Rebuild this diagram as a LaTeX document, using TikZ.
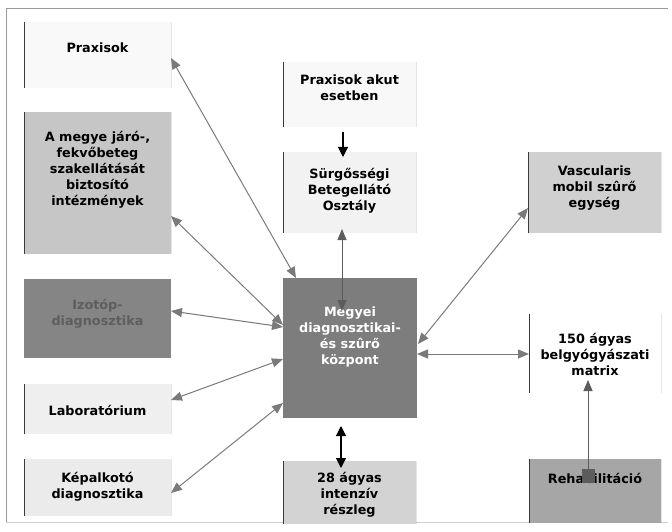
\documentclass[tikz,border=0pt]{standalone}
\usepackage{fontspec}
\setmainfont{DejaVu Sans}
\usetikzlibrary{arrows.meta,calc}
\definecolor{cPrax}{HTML}{F9F9F9}
\definecolor{cMegye}{HTML}{C6C6C6}
\definecolor{cIzo}{HTML}{858585}
\definecolor{cIzoTxt}{HTML}{5E5E5E}
\definecolor{cLab}{HTML}{EFEFEF}
\definecolor{cKep}{HTML}{EBEBEB}
\definecolor{cAkut}{HTML}{F8F8F8}
\definecolor{cSurg}{HTML}{F2F2F2}
\definecolor{cCenter}{HTML}{7D7D7D}
\definecolor{cInt}{HTML}{D3D3D3}
\definecolor{cVasc}{HTML}{D0D0D0}
\definecolor{cB150}{HTML}{FFFFFF}
\definecolor{cRehab}{HTML}{A6A6A6}
\definecolor{cLine}{HTML}{7A7A7A}
\definecolor{cLineDark}{HTML}{5C5C5C}
\definecolor{cEdge}{HTML}{3A3A3A}
\definecolor{cFrame}{HTML}{9A9A9A}
\begin{document}
\begin{tikzpicture}[x=1pt,y=-1pt,
  box/.style={draw=none,inner sep=0pt,outer sep=0pt},
  edged/.style={path picture={\draw[cEdge,line width=0.7pt]
      (path picture bounding box.north west)--(path picture bounding box.south west)
      (path picture bounding box.north east)--(path picture bounding box.south east);}},
  lbl/.style={inner sep=0pt,align=center,font=\bfseries\fontsize{12.8}{16}\selectfont},
  garrow/.style={cLine,line width=1pt,{Triangle[length=11pt,width=9pt]}-{Triangle[length=11pt,width=9pt]}},
  barrow/.style={black,line width=1.1pt,-{Triangle[length=10pt,width=10pt]}},
  bbarrow/.style={black,line width=1.1pt,{Triangle[length=10pt,width=10pt]}-{Triangle[length=10pt,width=10pt]}}
]
\useasboundingbox (0,0) rectangle (672,532);
% frame
\draw[cFrame,line width=1pt] (668,9) -- (6,9) -- (6,522);
\draw[cFrame!50,line width=0.8pt] (6,522) -- (668,522);
% boxes
\node[box,edged,fill=cPrax,minimum width=147pt,minimum height=66pt] (prax) at (97.5,55) {};
\node[box,edged,fill=cMegye,minimum width=147pt,minimum height=142pt] (megye) at (97.5,183) {};
\node[box,fill=cIzo,minimum width=147pt,minimum height=79pt] (izotop) at (97.5,318.5) {};
\node[box,edged,fill=cLab,minimum width=147pt,minimum height=50pt] (lab) at (97.5,409) {};
\node[box,edged,fill=cKep,minimum width=147pt,minimum height=57pt] (kep) at (97.5,487.5) {};
\node[box,edged,fill=cAkut,minimum width=133pt,minimum height=65pt] (akut) at (349.5,94.5) {};
\node[box,edged,fill=cSurg,minimum width=133pt,minimum height=81pt] (surg) at (349.5,192.5) {};
\node[box,fill=cCenter,minimum width=134pt,minimum height=140pt] (center) at (350,348) {};
\node[box,edged,fill=cInt,minimum width=133pt,minimum height=63pt] (intenz) at (349.5,492.5) {};
\node[box,edged,fill=cVasc,minimum width=133pt,minimum height=81pt] (vasc) at (594.5,192.5) {};
\node[box,edged,fill=cB150,minimum width=132pt,minimum height=79pt] (b150) at (595,353.5) {};
\node[box,edged,fill=cRehab,minimum width=132pt,minimum height=64pt] (rehab) at (595,491) {};
% labels
\node[lbl] (tprax) at (97.5,48) {Praxisok};
\node[lbl] (tmegye) at (97.5,170) {A megye járó-,\\fekvőbeteg\\szakellátását\\biztosító\\intézmények};
\node[lbl,text=cIzoTxt] (tizotop) at (97.5,314) {Izotóp-\\diagnosztika};
\node[lbl] (tlab) at (97.5,410) {Laboratórium};
\node[lbl] (tkep) at (97.5,487) {Képalkotó\\diagnosztika};
\node[lbl] (takut) at (349.5,88) {Praxisok akut\\esetben};
\node[lbl] (tsurg) at (349.5,191) {Sürgősségi\\Betegellátó\\Osztály};
\node[lbl,text=white] (tcenter) at (350,337) {Megyei\\diagnosztikai-\\és szûrő\\központ};
\node[lbl] (tintenz) at (349.5,495) {28 ágyas\\intenzív\\részleg};
\node[lbl] (tvasc) at (594.5,188) {Vascularis\\mobil szûrő\\egység};
\node[lbl] (tb150) at (595,354) {150 ágyas\\belgyógyászati\\matrix};
\node[lbl] (trehab) at (595,478) {Rehabilitáció};
% connectors
\draw[garrow] ($(prax.north east)+(0,36)$) -- ($(center.north west)+(13,0)$);
\draw[garrow] ($(megye.north east)+(0,104)$) -- ($(center.north west)+(0,47)$);
\draw[garrow] ($(izotop.north east)+(0,32)$) -- ($(center.north west)+(0,49)$);
\draw[garrow] ($(lab.north east)+(0,16)$) -- ($(center.north west)+(0,81)$);
\draw[garrow] ($(kep.north east)+(0,34)$) -- ($(center.north west)+(0,125)$);
\draw[barrow] ($(akut.south west)+(60,5)$) -- ($(surg.north west)+(60,5)$);
\draw[garrow,cLineDark] ($(surg.south west)+(59,-4)$) -- ($(center.north west)+(59,33)$);
\draw[bbarrow] ($(center.south west)+(58,8)$) -- ($(intenz.north west)+(58,7)$);
\draw[garrow] ($(vasc.north west)+(0,56)$) -- ($(center.north east)+(1,66)$);
\draw[garrow] ($(center.north east)+(0,76)$) -- ($(b150.north west)+(0,40)$);
\draw[cLineDark,line width=1pt,{Square[length=14pt,width=13pt]}-{Triangle[length=11pt,width=9pt]}] ($(rehab.north west)+(59,24)$) -- ($(b150.south west)+(59,-13)$);
\end{tikzpicture}
\end{document}
